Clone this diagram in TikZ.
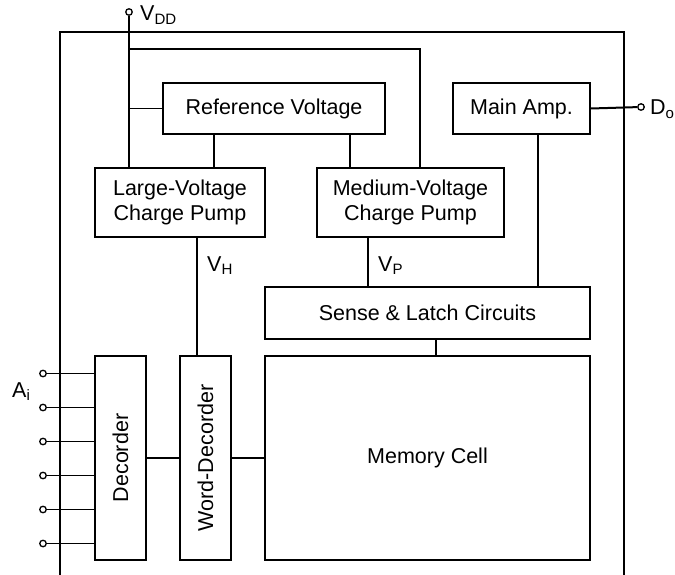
\documentclass[tikz,border=0pt]{standalone}
\usepackage{fontspec}
\setmainfont{Liberation Sans}
\begin{document}
\begin{tikzpicture}[x=1pt,y=-1pt,
  every node/.style={font=\fontsize{21.5}{25}\selectfont},
  blk/.style={draw,line width=1.8pt,inner sep=0pt,align=center},
  wire/.style={line width=1.6pt},
  term/.style={circle,draw,line width=1.3pt,fill=white,minimum size=6.5pt,inner sep=0pt},
  lbl/.style={inner sep=0pt,anchor=base west}]
\useasboundingbox (0,0) rectangle (675,575);
% outer frame
\draw[wire] (60,575) -- (60,32) -- (624,32) -- (624,575);
% blocks
\node[blk,minimum width=222pt,minimum height=51pt] (ref) at (274,108.5) {Reference Voltage};
\node[blk,minimum width=137pt,minimum height=51pt] (amp) at (521.5,108.5) {Main Amp.};
\node[blk,minimum width=170pt,minimum height=69pt] (large) at (180,202.5) {Large-Voltage\\Charge Pump};
\node[blk,minimum width=187pt,minimum height=69pt] (med) at (410.5,202.5) {Medium-Voltage\\Charge Pump};
\node[blk,minimum width=325pt,minimum height=52pt] (sense) at (427.5,313) {Sense \& Latch Circuits};
\node[blk,minimum width=325pt,minimum height=204pt] (mem) at (427.5,458) {Memory Cell};
\node[blk,minimum width=51pt,minimum height=204pt] (dec) at (120.5,458) {\rotatebox{90}{Decorder}};
\node[blk,minimum width=51pt,minimum height=204pt] (wd) at (205.5,458) {\rotatebox{90}{Word-Decorder}};
% terminals
\node[term] (vdd) at (129,12) {};
\node[term] (do) at (641,107) {};
\node[lbl] (vddl) at (140,21) {V\textsubscript{DD}};
\node[lbl] (dol) at (650,115) {D\textsubscript{o}};
\node[lbl] (ail) at (12,397) {A\textsubscript{i}};
% VDD wiring
\coordinate (j1) at (129,49);
\coordinate (j2) at (420,49);
\draw[wire] (vdd) -- (vdd |- large.north);
\draw[wire] (j1) -- (j2) -- (j2 |- med.north);
\draw[wire] (ref.west) -- (ref.west -| vdd);
\draw[wire] ([xshift=-60pt]ref.south) -- ([xshift=-60pt]ref.south |- large.north);
\draw[wire] ([xshift=76pt]ref.south) -- ([xshift=76pt]ref.south |- med.north);
% amp
\draw[wire,line width=2pt] (amp.east) -- (do);
\draw[wire] ([xshift=16.5pt]amp.south) -- ([xshift=16.5pt]amp.south |- sense.north);
% VH, VP
\coordinate (vh) at (197,250);
\coordinate (vp) at (368,250);
\draw[wire] (vh |- large.south) -- (vh |- wd.north);
\draw[wire] (vp |- med.south) -- (vp |- sense.north);
\node[lbl] (vhl) at (207,271) {V\textsubscript{H}};
\node[lbl] (vpl) at (378,271) {V\textsubscript{P}};
% sense to memory
\draw[wire] ([xshift=8.5pt]sense.south) -- ([xshift=8.5pt]mem.north);
% decoder chain
\draw[wire] (dec) -- (wd);
\draw[wire] (wd) -- (mem);
% address inputs
\foreach \yy [count=\i] in {373.5,407.5,441.5,475.5,509.5,543.5} {
  \node[term] (a\i) at (43,\yy) {};
  \draw[wire] (a\i) -- (a\i -| dec.west);
}
\end{tikzpicture}
\end{document}
